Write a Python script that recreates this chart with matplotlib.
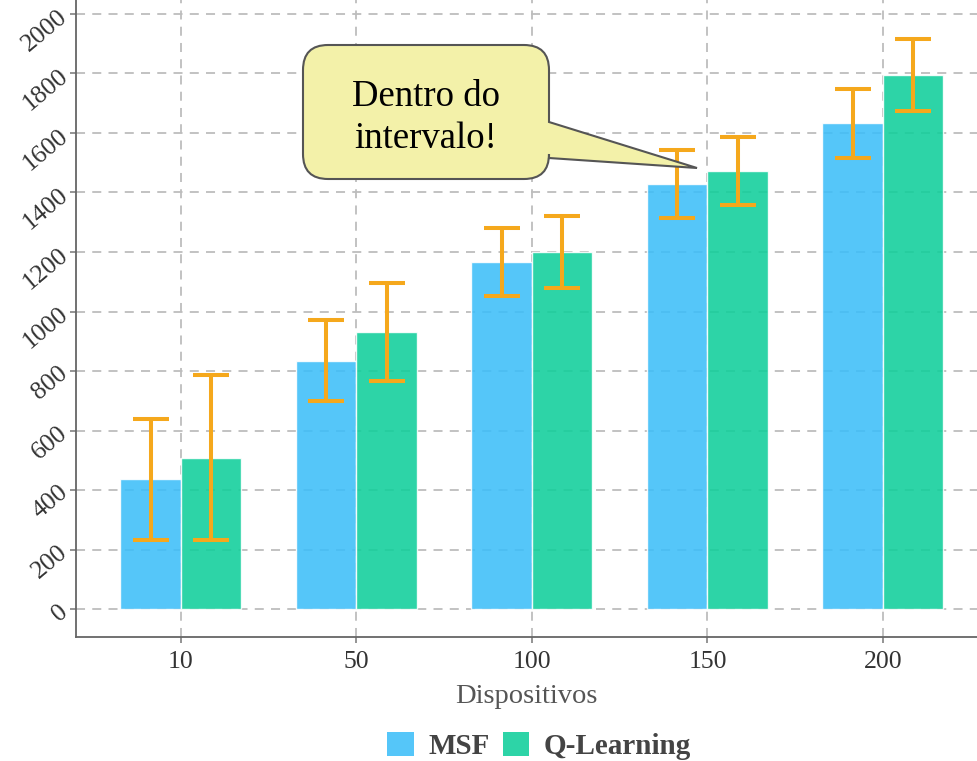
import matplotlib
matplotlib.use("Agg")
import matplotlib.pyplot as plt
import numpy as np
from matplotlib.path import Path
from matplotlib.patches import PathPatch, Patch
from matplotlib import transforms

# Data
categories = ["10", "50", "100", "150", "200"]
msf_mean = [436, 834, 1166, 1428, 1632]
msf_err = [204, 136, 114, 115, 116]
ql_mean = [508, 930, 1199, 1471, 1794]
ql_err = [277, 165, 121, 114, 121]
series_names = ["MSF", "Q-Learning"]
y_ticks = [0, 200, 400, 600, 800, 1000, 1200, 1400, 1600, 1800, 2000]
x_label = "Dispositivos"
note_text = "Dentro do\nintervalo!"

W, H, DPI = 977, 761, 100
plt.rcParams["font.family"] = ["Liberation Serif", "DejaVu Serif"]

fig = plt.figure(figsize=(W / DPI, H / DPI), dpi=DPI)
ax = fig.add_axes([76 / W, 1 - 637 / H, (W - 76) / W, 637 / H])

blue = "#3DBEF9"
green = "#10CF9B"
orange = "#F5A81C"
x = np.arange(len(categories))
bw = 0.345

ax.bar(x - bw / 2, msf_mean, bw, color=blue, alpha=0.88, edgecolor="white",
       linewidth=1.0, zorder=3, label=series_names[0])
ax.bar(x + bw / 2, ql_mean, bw, color=green, alpha=0.88, edgecolor="white",
       linewidth=1.0, zorder=3, label=series_names[1])
ax.errorbar(x - bw / 2, msf_mean, yerr=msf_err, fmt="none", ecolor=orange,
            elinewidth=2.9, capsize=12.8, capthick=2.9, zorder=4)
ax.errorbar(x + bw / 2, ql_mean, yerr=ql_err, fmt="none", ecolor=orange,
            elinewidth=2.9, capsize=12.8, capthick=2.9, zorder=4)

ax.set_xlim(-0.598, 4.536)
ax.set_ylim(-94, 2047)
ax.set_xticks(x)
ax.set_xticklabels(categories, fontsize=18.5, color="#333333")
ax.set_yticks(y_ticks)
ax.set_yticklabels([str(v) for v in y_ticks], fontsize=18.5, color="#333333",
                   rotation=40, rotation_mode="anchor", ha="right", va="center")
ax.tick_params(axis="both", length=4, width=1.1, color="#777777", pad=4)
ax.tick_params(axis="x", pad=6)
ax.set_xlabel(x_label, fontsize=20.5, color="#555555", labelpad=8)

ax.grid(True, color="#BDBDBD", linestyle=(0, (5, 4)), linewidth=1.3, zorder=1)
ax.set_axisbelow(True)
for s in ["top", "right"]:
    ax.spines[s].set_visible(False)
for s in ["left", "bottom"]:
    ax.spines[s].set_color("#666666")
    ax.spines[s].set_linewidth(1.3)

# Legend below the plot
handles = [Patch(facecolor=blue, alpha=0.88, edgecolor="none"),
           Patch(facecolor=green, alpha=0.88, edgecolor="none")]
fig.legend(handles, series_names, loc="center", bbox_to_anchor=(539 / W, 1 - 746 / H),
           ncol=2, frameon=False, handlelength=0.9, handleheight=0.9,
           handletextpad=0.5, columnspacing=0.45,
           prop={"family": ["Liberation Serif"], "weight": "bold", "size": 21},
           labelcolor="#444444")

# Callout box with pointer (image pixel coordinates, y downward)
px = transforms.Affine2D().scale(1, -1).translate(0, H)
L, R, T, B, r = 303, 549, 45, 179, 25
y1, y2 = 122, 158
tip = (697, 168)
verts = [
    (R, y1), (R, T + r), (R, T), (R - r, T), (L + r, T), (L, T), (L, T + r),
    (L, B - r), (L, B), (L + r, B), (R - r, B), (R, B), (R, B - r),
    (R, y2), tip, (R, y1), (R, y1),
]
codes = [
    Path.MOVETO, Path.LINETO, Path.CURVE3, Path.CURVE3, Path.LINETO, Path.CURVE3, Path.CURVE3,
    Path.LINETO, Path.CURVE3, Path.CURVE3, Path.LINETO, Path.CURVE3, Path.CURVE3,
    Path.LINETO, Path.LINETO, Path.LINETO, Path.CLOSEPOLY,
]
callout = PathPatch(Path(verts, codes), facecolor="#F3F1A9", edgecolor="#555555",
                    linewidth=1.5, transform=px, zorder=10)
fig.add_artist(callout)
fig.text(426 / W, 1 - 118 / H, note_text, ha="center", va="center", fontsize=26.5,
         color="black", linespacing=1.3, zorder=11)

fig.savefig("out.png", dpi=DPI)
